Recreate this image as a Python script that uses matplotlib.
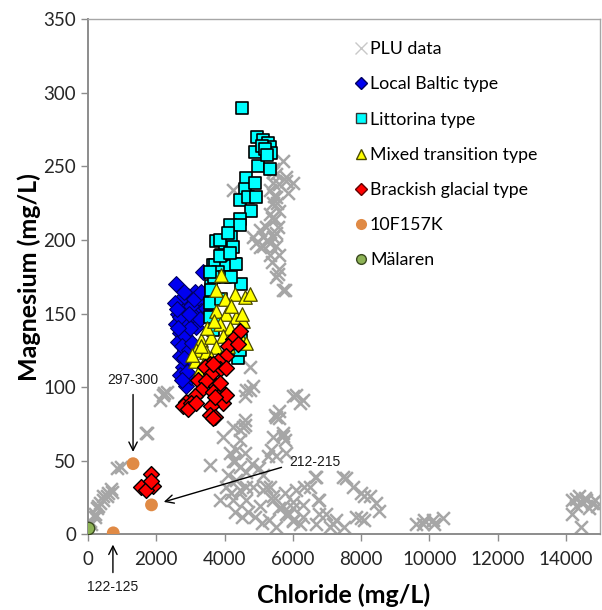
import matplotlib
matplotlib.use("Agg")
import matplotlib.pyplot as plt
from matplotlib.lines import Line2D

plt.rcParams['font.family'] = ['Lato', 'DejaVu Sans']

# ---------------- data ----------------
plu_x = [60, 100, 200, 200, 250, 290, 350, 440, 440, 550, 580, 680, 690, 840, 970, 1700, 1720, 2100, 2200, 2240, 2300,
         3560, 3950, 4240, 4440, 4590, 4150, 4240, 4440, 4640, 4350, 4640, 4050, 3860, 4240, 4640, 4840, 4740, 4640,
         4840, 5120, 5220, 5030, 5410, 5700, 5900, 6000, 5510, 5610, 5410, 5700, 5800, 5510, 6000, 5320, 6100, 4740,
         4590, 6100, 6200, 5470, 5610, 5710, 5760, 5370, 5270, 4590, 4540, 4440, 4350, 4300, 5130, 5420, 5760, 6000,
         6000, 6300, 6300, 6690, 6780, 6980, 7270, 7510, 7560, 7760, 8000, 8250, 8440, 7850, 8100, 6490, 6200, 6690,
         7080, 6000, 5800, 5610, 6640, 6340, 6730, 6780, 7170, 7470, 8100, 8540, 8000, 6300,
         4100, 4200, 4450, 4300, 4500, 4700, 4900, 5100, 5300, 5500, 4600, 4800, 5000,
         9610, 9800, 9850, 10100, 10390, 10150,
         14190, 14390, 14580, 14780, 14290, 14480, 14680, 14920, 14430, 14190, 14300, 14550, 14850,
         4250, 5710, 5420, 5810, 6000, 5420, 5320, 5510, 5860, 5420, 5610, 5320, 5470, 5220, 5560, 5030, 4840, 5130,
         5420, 5320, 4930, 5130, 5510, 5320, 5610, 5510, 5710, 5560, 5760, 5410, 5810, 5500, 5600, 5450, 5550, 5400,
         5500, 5250, 5050, 5400, 5600]
plu_y = [9, 7, 12, 14, 18, 19, 21, 23, 26, 26, 28, 31, 29, 45, 46, 69, 69, 91, 95, 96, 97,
         47, 66, 73, 71, 74, 55, 50, 46, 42, 37, 32, 32, 23, 23, 23, 32, 114, 98,
         101, 40, 32, 19, 23, 19, 14, 9, 80, 84, 66, 69, 55, 53, 94, 32, 30, 98,
         94, 95, 89, 81, 79, 67, 64, 57, 53, 78, 73, 64, 57, 50, 30, 26, 28, 22,
         18, 20, 12, 39, 23, 14, 10, 5, 38, 32, 28, 26, 21, 12, 10, 32, 7, 7,
         5, 10, 14, 18, 39, 32, 23, 14, 7, 39, 26, 16, 11, 91,
         40, 28, 30, 15, 12, 15, 12, 8, 10, 5, 55, 48, 45,
         7, 7, 10, 10, 11, 7,
         23, 26, 23, 21, 19, 21, 18, 19, 5, 14, 24, 25, 23,
         234, 254, 248, 243, 239, 239, 234, 229, 232, 225, 220, 218, 214, 209, 209, 207, 202, 202,
         202, 198, 198, 196, 196, 190, 180, 175, 166, 177, 166, 246, 240, 245, 238, 230, 225, 215,
         205, 200, 195, 185, 190]

baltic_x = [3370, 2590, 3130, 2920, 2690, 3220, 2780, 2630, 3320, 3070, 2590, 2880, 3170, 2690, 2920, 2630, 2840,
            2690, 2920, 2780, 2690, 2880, 3030, 3470, 3270, 2540, 3030, 2800, 2700, 2850, 2750, 2950, 2800, 3000,
            2650, 2900, 2750, 3100, 3300, 2950, 2600, 3050]
baltic_y = [178, 170, 165, 162, 159, 158, 152, 150, 152, 149, 143, 143, 141, 137, 132, 131, 125,
            121, 118, 114, 108, 101, 107, 154, 146, 157, 155, 165, 148, 135, 128, 125, 120, 140,
            140, 110, 105, 160, 165, 150, 153, 130]

litt_x = [4500, 4960, 5120, 5270, 5320, 4880, 5090, 5370, 4970, 5320, 4640, 4590, 4880, 4440, 4680, 4930, 4790,
          4440, 4150, 4440, 4200, 3760, 4000, 4240, 3950, 4300, 3650, 3860, 4490, 4090, 3610, 3760, 4300, 4390,
          3710, 4050, 4350, 3610, 3560, 3560, 3650, 4490, 4440, 5200, 5250, 4100, 3900, 3800, 3700, 4000, 3900,
          4200, 3560, 3860, 4150]
litt_y = [290, 270, 268, 266, 263, 260, 264, 259, 250, 248, 242, 235, 239, 227, 229, 229, 220,
          214, 210, 210, 202, 199, 193, 195, 184, 184, 183, 200, 170, 183, 169, 144, 125, 120,
          183, 182, 184, 166, 157, 148, 139, 132, 125, 262, 258, 205, 190, 178, 175, 175, 160,
          175, 178, 189, 191]

mixed_x = [3910, 3760, 4300, 4590, 4740, 3760, 4050, 4350, 4530, 3860, 4150, 3320, 3610, 3950, 4440, 3170, 3470,
           3760, 3130, 3370, 3270, 4640, 4000, 4200, 3500, 3700, 3300, 4100, 3900, 4500, 3050, 3600]
mixed_y = [176, 166, 163, 161, 163, 152, 150, 148, 145, 143, 140, 132, 134, 135, 135, 125, 124,
           127, 118, 115, 112, 130, 160, 155, 140, 145, 128, 128, 120, 150, 122, 120]

brack_x = [4440, 4240, 4090, 4390, 4050, 3800, 3560, 3420, 3860, 3610, 4050, 3220, 3470, 3760, 3320, 3650, 3950,
           3130, 3800, 2880, 2780, 3030, 3950, 3610, 3560, 3710, 2920, 3170, 3650, 3860, 4050, 3710, 3650,
           1850, 1560, 1900, 1700, 1860]
brack_y = [138, 133, 128, 129, 121, 118, 116, 114, 112, 109, 113, 105, 104, 101, 98, 97, 96,
           94, 93, 90, 87, 89, 89, 87, 81, 80, 85, 89, 116, 103, 95, 93, 79,
           41, 32, 33, 30, 36]

k10_x = [1320, 1860, 740]
k10_y = [48, 20, 1]

mal_x = [10]
mal_y = [4]

x_ticks = [0, 2000, 4000, 6000, 8000, 10000, 12000, 14000]
y_ticks = [0, 50, 100, 150, 200, 250, 300, 350]

# ---------------- figure ----------------
fig = plt.figure(figsize=(6.02, 6.10), dpi=100)
ax = fig.add_axes([88 / 602, 1 - 534.3 / 610, 512 / 602, (534.3 - 19.3) / 610])

ax.scatter(plu_x, plu_y, marker='x', s=85, color='#a6a6a6', linewidths=1.8, zorder=2, label='PLU data')
ax.scatter(baltic_x, baltic_y, marker='D', s=65, color='#0000f0', edgecolors='#000060', linewidths=0.8,
           zorder=3, label='Local Baltic type')
ax.scatter(litt_x, litt_y, marker='s', s=85, color='#00ffff', edgecolors='black', linewidths=1.2,
           zorder=4, label='Littorina type')
ax.scatter(mixed_x, mixed_y, marker='^', s=95, color='#ffff00', edgecolors='#4a4a00', linewidths=0.9,
           zorder=5, label='Mixed transition type')
ax.scatter(brack_x, brack_y, marker='D', s=65, color='#ff0000', edgecolors='black', linewidths=1.0,
           zorder=6, label='Brackish glacial type')
ax.scatter(k10_x, k10_y, marker='o', s=85, color='#e08a45', edgecolors='none', zorder=7, label='10F157K')
ax.scatter(mal_x, mal_y, marker='o', s=80, color='#8db356', edgecolors='#3a4a20', linewidths=1.0,
           zorder=7, label='Mälaren')

ax.set_xlim(0, 15000)
ax.set_ylim(0, 350)
ax.set_xticks(x_ticks)
ax.set_yticks(y_ticks)
ax.tick_params(axis='both', direction='out', length=5, width=1, color='#8c8c8c',
               labelsize=13.5, labelcolor='#262626')
ax.tick_params(axis='x', pad=7)
for side in ['top', 'right']:
    ax.spines[side].set_color('#a6a6a6')
    ax.spines[side].set_linewidth(1.0)
for side in ['left', 'bottom']:
    ax.spines[side].set_color('#8c8c8c')
    ax.spines[side].set_linewidth(1.4)

ax.set_xlabel('Chloride (mg/L)', fontsize=18, fontweight='bold', labelpad=11)
ax.set_ylabel('Magnesium (mg/L)', fontsize=18, fontweight='bold', labelpad=2)

# annotations
ann_font = dict(family=['Liberation Sans', 'DejaVu Sans'], size=10, color='#1a1a1a')
arrow = dict(arrowstyle='->,head_length=0.6,head_width=0.3', color='black', lw=1.0, shrinkA=0, shrinkB=0)
ax.text(1300, 105, '297-300', ha='center', va='center', **ann_font)
ax.annotate('', xy=(1320, 56), xytext=(1320, 95), arrowprops=arrow)
ax.text(6650, 49, '212-215', ha='center', va='center', **ann_font)
ax.annotate('', xy=(2220, 22), xytext=(5670, 45.5), arrowprops=arrow)
ax.text(730, -36, '122-125', ha='center', va='center', clip_on=False, **ann_font)
ax.annotate('', xy=(730, -7), xytext=(730, -26), arrowprops=arrow, annotation_clip=False)

# legend
handles = [
    Line2D([], [], marker='x', linestyle='none', color='#c8c8c8', markersize=8, markeredgewidth=1.0),
    Line2D([], [], marker='D', linestyle='none', color='#0000f0', markeredgecolor='#000060', markersize=6),
    Line2D([], [], marker='s', linestyle='none', color='#00ffff', markeredgecolor='#333333', markersize=6.5),
    Line2D([], [], marker='^', linestyle='none', color='#ffff00', markeredgecolor='#4a4a00', markersize=7),
    Line2D([], [], marker='D', linestyle='none', color='#ff0000', markeredgecolor='#600000', markersize=6),
    Line2D([], [], marker='o', linestyle='none', color='#e08a45', markeredgecolor='none', markersize=8),
    Line2D([], [], marker='o', linestyle='none', color='#8db356', markeredgecolor='#3a4a20', markersize=7),
]
labels = ['PLU data', 'Local Baltic type', 'Littorina type', 'Mixed transition type',
          'Brackish glacial type', '10F157K', 'Mälaren']
ax.legend(handles, labels, loc='upper left', bbox_to_anchor=(0.495, 0.985), frameon=False,
          fontsize=12.8, handlelength=0.6, handletextpad=0.2, labelspacing=1.08, borderpad=0.3)

fig.savefig('out.png', dpi=100)
